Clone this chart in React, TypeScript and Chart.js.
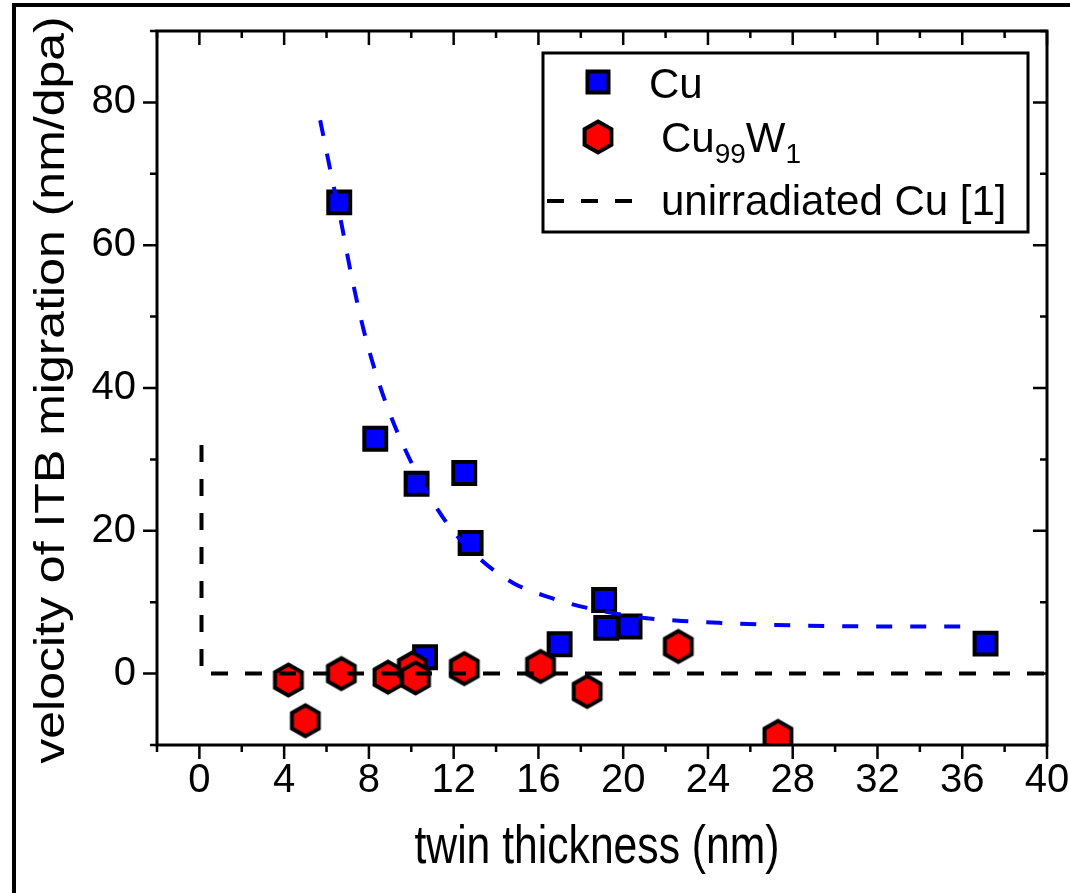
import React, { useEffect, useRef } from 'react';
import { Chart, registerables } from 'chart.js';

Chart.register(...registerables);

// ---- data ----
const cuThickness = [6.6, 8.3, 10.25, 12.5, 12.8, 10.65, 17.0, 19.1, 19.2, 20.3, 37.1];
const cuVelocity = [66.0, 32.9, 26.6, 28.1, 18.3, 2.3, 4.1, 10.3, 6.4, 6.6, 4.2];

const cuwThickness = [4.2, 5.0, 6.7, 8.9, 10.05, 10.2, 12.5, 16.1, 18.3, 22.6, 27.3];
const cuwVelocity = [-0.9, -6.6, 0.0, -0.5, 0.8, -0.6, 0.7, 1.0, -2.5, 3.8, -8.8];

const fitThickness = [5.7, 6.2, 6.7, 7.15, 7.85, 8.8, 10.1, 11.75, 13.3, 14.8, 16.6, 18.3, 21.0, 23.2, 24.6, 28.0, 32.9, 36.6];
const fitVelocity = [77.5, 70.2, 63.1, 56.1, 47.0, 37.9, 29.0, 20.8, 15.9, 12.7, 10.6, 9.2, 7.8, 7.3, 7.1, 6.75, 6.6, 6.6];

const refThickness = [0.1, 0.1, 40];
const refVelocity = [32, 0, 0];

const xLabelStep = 4;
const yLabelStep = 20;

const xTitle = 'twin thickness (nm)';
const yTitle = 'velocity of ITB migration (nm/dpa)';
const legendCu = 'Cu';
const legendCuW = ['Cu', '99', 'W', '1'];
const legendRef = 'unirradiated Cu [1]';

const FONT = "'Liberation Sans', Arial, sans-serif";

function toPoints(xs: number[], ys: number[]) {
  return xs.map((x, i) => ({ x, y: ys[i] }));
}

function makeHexagon(radius: number, fill: string, stroke: string, lw: number) {
  const c = document.createElement('canvas');
  const w = 2 * Math.ceil((Math.sqrt(3) * radius + lw * 2 + 2) / 2);
  const h = 2 * Math.ceil((2 * radius + lw * 2 + 2) / 2);
  c.width = w;
  c.height = h;
  const g = c.getContext('2d')!;
  g.translate(w / 2, h / 2);
  g.beginPath();
  for (let i = 0; i < 6; i++) {
    const a = -Math.PI / 2 + (i * Math.PI) / 3;
    const px = radius * Math.cos(a);
    const py = radius * Math.sin(a);
    if (i === 0) g.moveTo(px, py);
    else g.lineTo(px, py);
  }
  g.closePath();
  g.fillStyle = fill;
  g.fill();
  g.lineWidth = lw;
  g.strokeStyle = stroke;
  g.lineJoin = 'miter';
  g.stroke();
  return c;
}

export default function App() {
  const canvasRef = useRef<HTMLCanvasElement | null>(null);

  useEffect(() => {
    document.body.style.margin = '0';
    const hex = makeHexagon(15.5, '#ff0000', '#000000', 4);

    const axesPlugin = {
      id: 'axesFrame',
      afterDraw(chart: any) {
        const { ctx, chartArea: a, scales } = chart;
        const xs = scales.x;
        const ys = scales.y;
        ctx.save();
        // outer page frame
        ctx.fillStyle = '#000';
        ctx.fillRect(12, 3, 4, 900);
        ctx.fillRect(12, 3, 1070, 4);
        // plot frame
        ctx.strokeStyle = '#000';
        ctx.lineWidth = 3;
        ctx.strokeRect(a.left, a.top, a.right - a.left, a.bottom - a.top);
        ctx.lineWidth = 2.5;
        ctx.beginPath();
        xs.ticks.forEach((t: any) => {
          const px = xs.getPixelForValue(t.value);
          const major = Math.abs(t.value % xLabelStep) < 1e-6;
          const len = major ? 14 : 7;
          ctx.moveTo(px, a.bottom);
          ctx.lineTo(px, a.bottom + len);
          ctx.moveTo(px, a.top);
          ctx.lineTo(px, a.top + len);
        });
        ys.ticks.forEach((t: any) => {
          const py = ys.getPixelForValue(t.value);
          const major = Math.abs(t.value % yLabelStep) < 1e-6;
          const len = major ? 14 : 7;
          ctx.moveTo(a.left, py);
          ctx.lineTo(a.left - len, py);
          ctx.moveTo(a.right, py);
          ctx.lineTo(a.right - len, py);
        });
        ctx.stroke();

        // axis titles
        ctx.fillStyle = '#000';
        ctx.textAlign = 'center';
        ctx.textBaseline = 'middle';
        ctx.font = `54px ${FONT}`;
        ctx.save();
        ctx.translate(597, 848);
        ctx.scale(0.79, 1);
        ctx.fillText(xTitle, 0, 0);
        ctx.restore();
        ctx.font = `50px ${FONT}`;
        ctx.save();
        ctx.translate(52, 390);
        ctx.rotate(-Math.PI / 2);
        ctx.scale(1, 0.85);
        ctx.fillText(yTitle, 0, 0);
        ctx.restore();

        // legend
        const L = { left: 543, top: 53, right: 1028, bottom: 232 };
        ctx.fillStyle = '#fff';
        ctx.fillRect(L.left, L.top, L.right - L.left, L.bottom - L.top);
        ctx.lineWidth = 3;
        ctx.strokeStyle = '#000';
        ctx.strokeRect(L.left, L.top, L.right - L.left, L.bottom - L.top);
        // square marker
        ctx.fillStyle = '#0000ff';
        ctx.lineWidth = 4;
        ctx.fillRect(598 - 10.5, 82 - 10.5, 21, 21);
        ctx.strokeRect(598 - 10.5, 82 - 10.5, 21, 21);
        // hexagon marker
        ctx.drawImage(hex, 598 - hex.width / 2, 137 - hex.height / 2);
        // dashed line
        ctx.save();
        ctx.setLineDash([17, 17]);
        ctx.lineWidth = 4;
        ctx.beginPath();
        ctx.moveTo(547, 201);
        ctx.lineTo(635, 201);
        ctx.stroke();
        ctx.restore();
        // texts
        ctx.fillStyle = '#000';
        ctx.textAlign = 'left';
        ctx.textBaseline = 'alphabetic';
        const big = `42px ${FONT}`;
        const small = `28px ${FONT}`;
        ctx.font = big;
        ctx.fillText(legendCu, 649, 98);
        let tx = 661;
        legendCuW.forEach((s, i) => {
          const sub = i % 2 === 1;
          ctx.font = sub ? small : big;
          ctx.fillText(s, tx, sub ? 163 : 152);
          tx += ctx.measureText(s).width;
        });
        ctx.font = big;
        ctx.fillText(legendRef, 661, 215);
        ctx.restore();
      },
    };

    const hiddenTicks = (len: number) => ({
      display: true,
      drawOnChartArea: false,
      drawTicks: true,
      tickLength: len,
      tickColor: 'rgba(0,0,0,0)',
      color: 'rgba(0,0,0,0)',
    });

    const chart = new Chart(canvasRef.current!, {
      type: 'scatter',
      data: {
        datasets: [
          {
            label: 'fit',
            data: toPoints(fitThickness, fitVelocity),
            showLine: true,
            borderColor: '#0000ff',
            borderWidth: 4,
            borderDash: [16, 18],
            pointRadius: 0,
            cubicInterpolationMode: 'monotone',
            fill: false,
          },
          {
            label: legendRef,
            data: toPoints(refThickness, refVelocity),
            showLine: true,
            borderColor: '#000000',
            borderWidth: 4,
            borderDash: [17, 17],
            pointRadius: 0,
            tension: 0,
            fill: false,
          },
          {
            label: 'Cu99W1',
            data: toPoints(cuwThickness, cuwVelocity),
            pointStyle: hex as any,
            pointRadius: 16,
            clip: 0,
          },
          {
            label: legendCu,
            data: toPoints(cuThickness, cuVelocity),
            pointStyle: 'rect',
            pointRadius: 15.5,
            backgroundColor: '#0000ff',
            borderColor: '#000000',
            borderWidth: 4,
            clip: 0,
          },
        ],
      },
      options: {
        animation: false,
        responsive: true,
        maintainAspectRatio: false,
        layout: { padding: { left: 0, top: 31, right: 23, bottom: 0 } },
        plugins: {
          legend: { display: false },
          tooltip: { enabled: false },
        },
        scales: {
          x: {
            type: 'linear',
            min: -2,
            max: 40,
            grid: hiddenTicks(12),
            border: { display: false },
            ticks: {
              stepSize: 2,
              autoSkip: false,
              maxRotation: 0,
              padding: 0,
              color: '#000',
              font: { family: FONT, size: 40 },
              callback: (v: any) => (Math.abs(Number(v) % xLabelStep) < 1e-6 ? String(v) : ''),
            },
            afterFit: (s: any) => {
              s.height = 148;
            },
          },
          y: {
            type: 'linear',
            min: -10,
            max: 90,
            grid: hiddenTicks(21),
            border: { display: false },
            ticks: {
              stepSize: 10,
              autoSkip: false,
              padding: 0,
              color: '#000',
              font: { family: FONT, size: 40 },
              callback: (v: any) => (Math.abs(Number(v) % yLabelStep) < 1e-6 ? String(v) : ''),
            },
            afterFit: (s: any) => {
              s.width = 157;
            },
          },
        },
      },
      plugins: [axesPlugin],
    });

    return () => chart.destroy();
  }, []);

  return (
    <div style={{ position: 'absolute', left: 0, top: 0, width: 1070, height: 893 }}>
      <canvas ref={canvasRef} />
    </div>
  );
}
